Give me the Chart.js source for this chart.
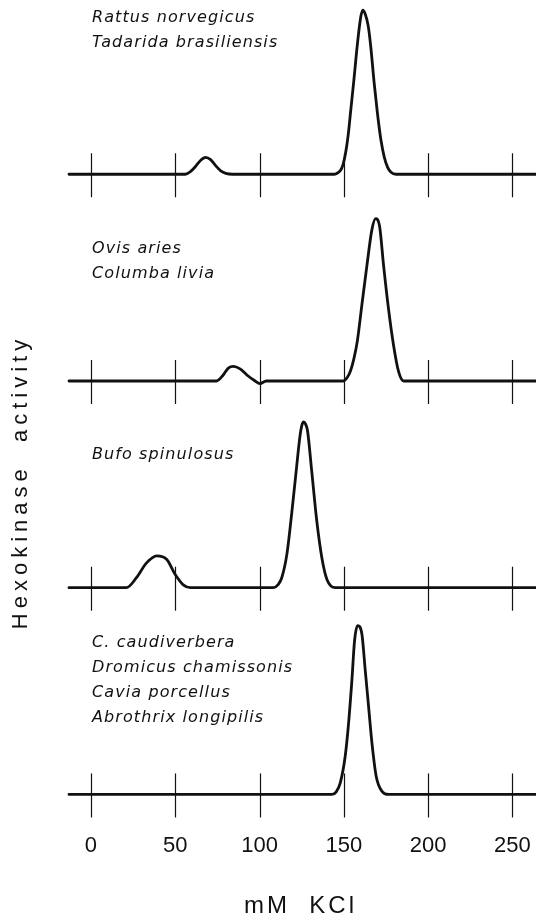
<!DOCTYPE html>
<html><head><meta charset="utf-8">
<script src="https://cdn.jsdelivr.net/npm/chart.js@4.4.0/dist/chart.umd.min.js"></script>
<style>html,body{margin:0;padding:0;background:#fff}canvas{display:block}</style>
</head><body>
<canvas id="c" width="536" height="919"></canvas>
<script>
// ---- data ----
const xTickValues = [0, 50, 100, 150, 200, 250];
const xTitle = 'mM  KCl';
const yTitle = 'Hexokinase  activity';
const panelNames = [
  ['Rattus norvegicus', 'Tadarida brasiliensis'],
  ['Ovis aries', 'Columba livia'],
  ['Bufo spinulosus'],
  ['C. caudiverbera', 'Dromicus chamissonis', 'Cavia porcellus', 'Abrothrix longipilis']
];
const rattusKcl      = [-13, 56, 59, 62, 65, 68, 71, 74, 77, 80, 84, 144, 146, 148, 149.5, 151, 152.5, 154, 156, 158, 160, 161.3, 162.7, 164.5, 166, 168, 170, 172, 174, 176, 178, 181, 264];
const rattusActivity = [0, 0, 1.5, 4.5, 8, 9.8, 8.5, 5, 2, 0.5, 0, 0, 0.6, 2.2, 5.5, 12, 22, 36, 55, 75, 91, 95.3, 93, 86, 74, 53, 35, 20, 10, 4, 1.2, 0, 0];
const ovisKcl        = [-13, 74.5, 78.5, 81.5, 84.5, 88.5, 92.5, 97, 100.3, 104, 149.8, 152, 154, 156, 158, 160.7, 163.7, 166.7, 168.9, 171.2, 173.6, 176.5, 179.5, 182.5, 185.5, 264];
const ovisActivity   = [0, 0, 3.5, 7.5, 8.5, 7, 3.5, 0.3, -1.5, 0, 0, 2, 6, 13, 23, 44, 67, 88, 94.2, 90, 67, 42, 20.8, 5.4, 0, 0];
const bufoKcl        = [-13, 21, 27, 33, 39, 45, 50, 55, 59, 108.3, 111, 113.2, 116.2, 119.2, 122, 124, 125.2, 126.2, 127.3, 128.5, 131, 134, 137, 140, 145, 264];
const bufoActivity   = [0, 0, 5.8, 14.4, 18.5, 16.4, 7.7, 1.5, 0, 0, 1.8, 5.8, 19.2, 44, 70, 88, 94.5, 96.2, 95, 91, 67.4, 38.5, 17.3, 4.8, 0, 0];
const caudKcl        = [-13, 142.9, 145.5, 147.9, 150.8, 152.8, 154.8, 156.4, 158.2, 160.7, 162.7, 164.7, 166.7, 169.2, 172.6, 176.6, 264];
const caudActivity   = [0, 0, 1.5, 6.7, 22, 41, 66.4, 89.5, 98, 93.3, 72.2, 51, 29.8, 10.6, 1.9, 0, 0];

// ---- chart ----
Chart.defaults.font.family = '"Liberation Sans", Arial, sans-serif';
const panels = [
  {kcl: rattusKcl, act: rattusActivity},
  {kcl: ovisKcl, act: ovisActivity},
  {kcl: bufoKcl, act: bufoActivity},
  {kcl: caudKcl, act: caudActivity}
];
const yIds = ['y1', 'y2', 'y3', 'y4'];
const ink = '#111';

const datasets = panels.map((p, i) => ({
  data: p.kcl.map((x, j) => ({x: x, y: p.act[j]})),
  xAxisID: 'x', yAxisID: yIds[i],
  borderColor: ink, borderWidth: 2.8, pointRadius: 0, fill: false,
  cubicInterpolationMode: 'monotone', clip: false,
  borderCapStyle: 'round', borderJoinStyle: 'round'
}));

const yScale = (w) => ({type: 'linear', position: 'left', stack: 'panels', stackWeight: 1,
  weight: w, min: -20, max: 100, display: false});

const labelLayout = {x: 92, offsets: [[-152, -127], [-127.7, -102.7], [-128.5], [-147.6, -122.3, -97.6, -72.3]]};

const decor = {
  id: 'decor',
  afterDatasetsDraw(chart) {
    const ctx = chart.ctx, xs = chart.scales.x, area = chart.chartArea;
    ctx.save();
    ctx.strokeStyle = ink; ctx.lineWidth = 1.2;
    yIds.forEach(id => {
      const base = chart.scales[id].getPixelForValue(0);
      xTickValues.forEach(v => {
        const px = Math.round(xs.getPixelForValue(v)) + 0.5;
        ctx.beginPath(); ctx.moveTo(px, base - 21); ctx.lineTo(px, base + 23); ctx.stroke();
      });
    });
    ctx.fillStyle = ink;
    ctx.font = 'oblique 16px "DejaVu Sans"';
    ctx.letterSpacing = '1.1px';
    ctx.textAlign = 'left'; ctx.textBaseline = 'alphabetic';
    panelNames.forEach((names, i) => {
      const base = chart.scales[yIds[i]].getPixelForValue(0);
      names.forEach((n, k) => ctx.fillText(n, labelLayout.x, base + labelLayout.offsets[i][k]));
    });
    // x axis title
    ctx.font = '24px "Liberation Sans"';
    ctx.letterSpacing = '3px';
    ctx.textAlign = 'center'; ctx.textBaseline = 'middle';
    ctx.fillText(xTitle, (area.left + area.right) / 2 - 2, area.bottom + 77);
    // y axis title
    ctx.translate(21, 482); ctx.rotate(-Math.PI / 2);
    ctx.font = '22px "Liberation Sans"';
    ctx.letterSpacing = '5px';
    ctx.fillText(yTitle, 0, 0);
    ctx.restore();
  }
};

new Chart(document.getElementById('c'), {
  type: 'line',
  data: {datasets: datasets},
  options: {
    responsive: false, animation: false,
    layout: {padding: {top: 2, left: 69, right: 0, bottom: 55.7}},
    plugins: {legend: {display: false}, tooltip: {enabled: false}},
    scales: {
      x: {type: 'linear', position: 'bottom', min: -13, max: 264,
        afterBuildTicks: (axis) => { axis.ticks = xTickValues.map(v => ({value: v})); },
        grid: {display: false, drawTicks: false}, border: {display: false},
        ticks: {padding: 4, font: {size: 22}, color: ink, maxRotation: 0, autoSkip: false},
        title: {display: false}
      },
      y1: yScale(4), y2: yScale(3), y3: yScale(2), y4: yScale(1)
    }
  },
  plugins: [decor]
});
</script>
</body></html>
